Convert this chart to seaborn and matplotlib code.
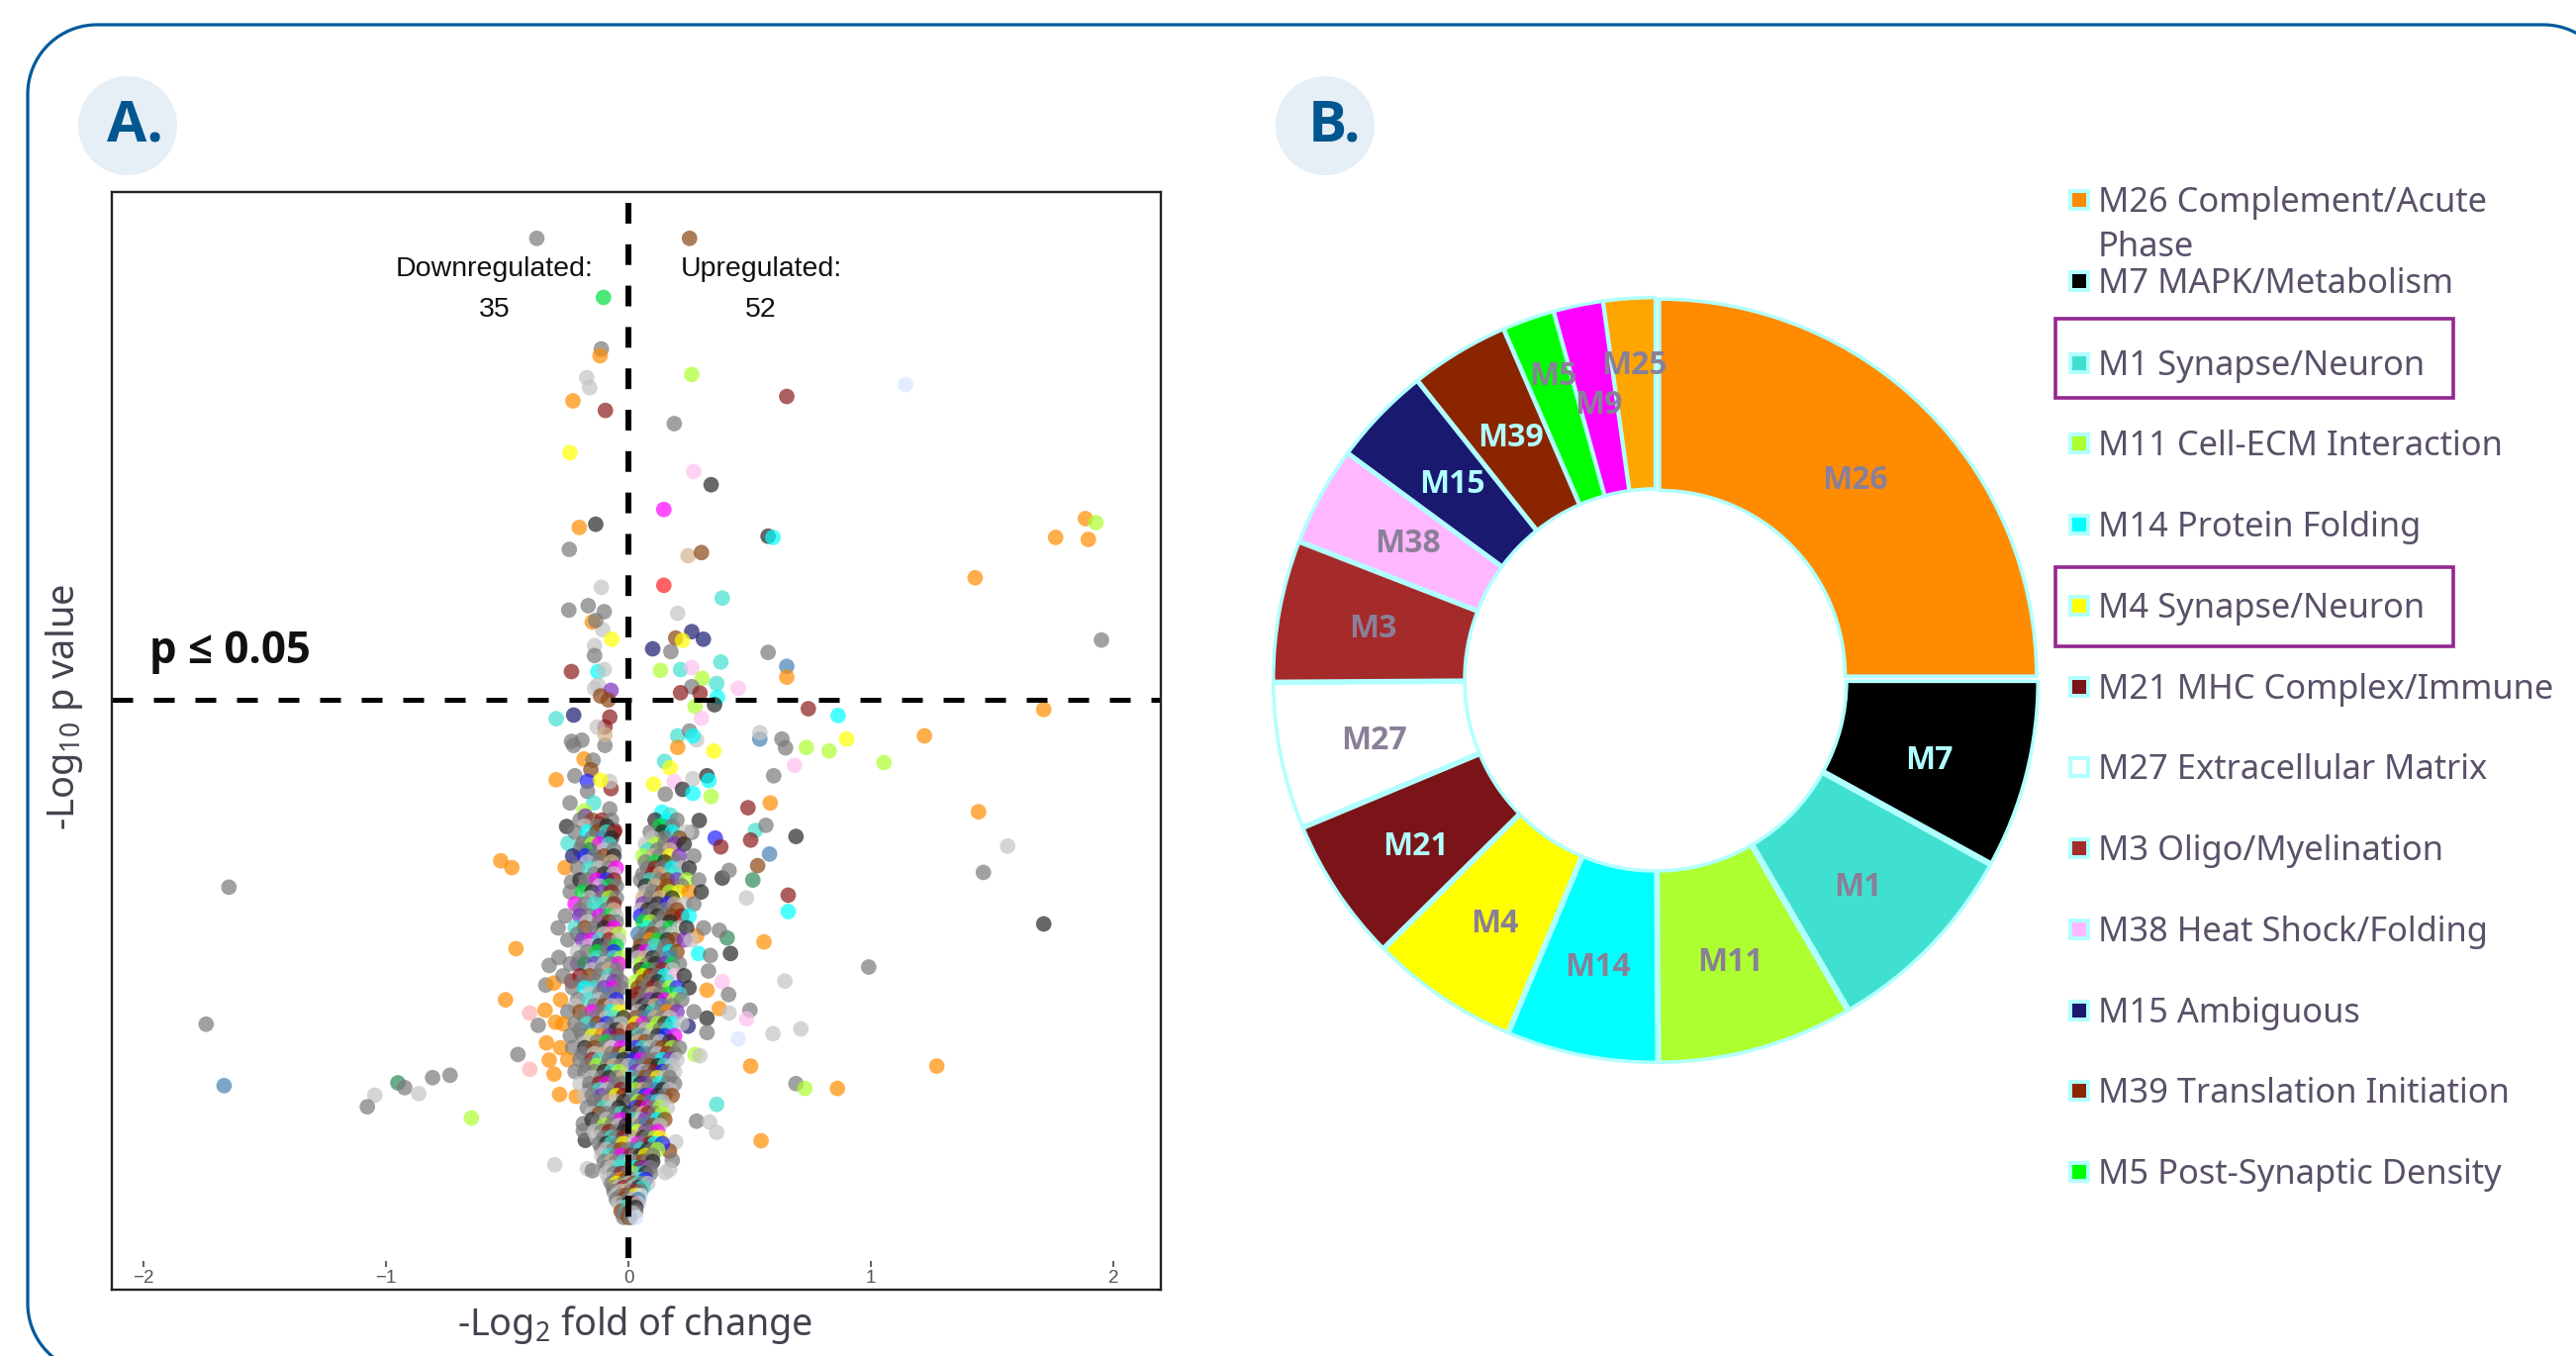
import matplotlib
matplotlib.use("Agg")
import matplotlib.pyplot as plt
from matplotlib.patches import Circle, Rectangle
import numpy as np
import pandas as pd
import seaborn as sns

# ---------------- donut data ----------------
donut_modules = ["M26","M7","M1","M11","M14","M4","M21","M27","M3","M38","M15","M39","M5","M9","M25"]
donut_values = [25,8,8.6,8.3,6.4,6.3,6.1,6.2,6,4.2,4.2,4.2,2.2,2.1,2.2]
donut_colors = ["#FF8C00","#000000","#40E0D0","#ADFF2F","#00FFFF","#FFFF00","#7A1418","#FFFFFF","#A52A2A","#FFB8FF","#191970","#8B2500","#00FF00","#FF00FF","#FFA500"]
donut_pale_labels = ["M7","M21","M15","M39"]
donut_label_radius = [.745,.745,.745,.745,.745,.745,.745,.745,.745,.745,.745,.745,.85,.74,.83]
donut_label_dx = [0,0,0,0,-.008,-.008,-.012,-.012,-.012,0,0,0,.012,0,0]
donut_label_dy = [0,-.027,-.027,-.027,-.027,-.027,-.027,-.012,0,0,0,0,0,0,0]

legend_labels = ["M26 Complement/Acute\nPhase","M7 MAPK/Metabolism","M1 Synapse/Neuron","M11 Cell-ECM Interaction","M14 Protein Folding","M4 Synapse/Neuron","M21 MHC Complex/Immune","M27 Extracellular Matrix","M3 Oligo/Myelination","M38 Heat Shock/Folding","M15 Ambiguous","M39 Translation Initiation","M5 Post-Synaptic Density"]
legend_colors = donut_colors[:13]
legend_rows = [202,284,367,448,530,612,694,775,857,939,1021,1102,1184]

# ---------------- volcano data ----------------
module_colors = {"g":"#7A7A7A","l":"#C4C4C4","k":"#262626","o":"#FF8C00","y":"#FFFF00","m":"#FF00FF","c":"#00FFFF","t":"#40E0D0",
                 "n":"#191970","b":"#2020FF","r":"#8B1A1A","R":"#8B4513","G":"#00E040","s":"#ADFF2F","p":"#FFC0F0","P":"#7B2FBE",
                 "e":"#2E8B57","w":"#D2B48C","v":"#4682B4","d":"#FF2020","f":"#D8E6FF","h":"#FFB0B0"}

upper_points = [(-.378,2.457,"g"),(.252,2.457,"R"),(-.103,2.309,"G"),(-.112,2.180,"g"),(-.117,2.163,"o"),(-.172,2.108,"l"),(-.160,2.083,"l"),
 (-.229,2.050,"o"),(-.095,2.026,"r"),(-.241,1.920,"y"),(.261,2.116,"s"),(.653,2.061,"r"),(1.143,2.091,"f"),(.189,1.993,"g"),(.269,1.873,"p"),
 (.341,1.840,"k"),(.146,1.778,"m"),(-.203,1.733,"o"),(-.135,1.741,"k"),(-.244,1.678,"g"),(.576,1.711,"k"),(.596,1.708,"c"),(1.885,1.755,"o"),
 (1.928,1.745,"s"),(1.762,1.708,"o"),(1.897,1.703,"o"),(1.43,1.607,"o"),(.246,1.662,"w"),(.301,1.670,"R"),(.146,1.588,"d"),(.387,1.556,"t"),
 (-.112,1.583,"l"),(-.246,1.526,"g"),(-.166,1.537,"g"),(-.100,1.522,"g"),(-.106,1.477,"l"),(-.149,1.496,"o"),(-.135,1.500,"g"),(-.069,1.453,"y"),
 (-.140,1.437,"l"),(-.140,1.412,"g"),(.203,1.518,"l"),(.261,1.472,"n"),(.309,1.453,"n"),(.195,1.456,"R"),(.223,1.450,"y"),(.100,1.429,"n"),
 (.175,1.422,"g"),(.576,1.420,"g"),(.653,1.385,"v"),(.653,1.358,"o"),(1.951,1.451,"g")]
middle_points = [(.381,1.396,"t"),(.215,1.377,"t"),(.132,1.375,"s"),(.261,1.382,"p"),(.304,1.355,"s"),(.364,1.342,"t"),(.453,1.330,"p"),
 (.261,1.334,"g"),(.295,1.318,"r"),(.215,1.319,"r"),(.367,1.308,"c"),(.355,1.289,"k"),(.275,1.285,"s"),(.742,1.279,"r"),(.865,1.262,"c"),
 (1.713,1.277,"o"),(.301,1.255,"p"),(-.235,1.372,"r"),(-.126,1.372,"c"),(-.100,1.377,"l"),(-.126,1.339,"l"),(-.072,1.325,"P"),(-.14,1.33,"l"),
 (-.115,1.311,"R"),(-.083,1.301,"R"),(-.226,1.263,"n"),(-.298,1.254,"t"),(-.077,1.258,"r"),(-.097,1.233,"r"),(-.129,1.233,"l"),(-.235,1.197,"g"),
 (-.192,1.200,"g"),(-.226,1.187,"g"),(-.097,1.187,"g"),(-.097,1.214,"w"),(.203,1.211,"t"),(.252,1.223,"g"),(.281,1.201,"l"),(.203,1.182,"o"),
 (.266,1.211,"c"),(.352,1.173,"y"),(.542,1.203,"v"),(.542,1.219,"l"),(.633,1.203,"g"),(.648,1.181,"g"),(.734,1.182,"s"),(.828,1.173,"s"),
 (.900,1.203,"y"),(1.221,1.211,"o"),(1.054,1.144,"s"),(.685,1.137,"p"),(-.183,1.153,"o"),(-.146,1.150,"g"),(-.155,1.126,"R"),(-.298,1.101,"o"),
 (-.221,1.111,"g"),(-.169,1.097,"b"),(-.072,1.079,"r"),(-.169,1.072,"g"),(-.077,1.097,"l"),(-.115,1.100,"y"),(.149,1.147,"t"),(.172,1.131,"y"),
 (.103,1.090,"y"),(.189,1.097,"p"),(.266,1.104,"l"),(.324,1.111,"k"),(.332,1.099,"c"),(.223,1.077,"k"),(.266,1.067,"c"),(.152,1.065,"g"),
 (.341,1.059,"s"),(.599,1.111,"g")]
lower_points = [(.493,1.031,"r"),(.585,1.043,"o"),(1.444,1.021,"o"),(-.241,1.043,"g"),(-.143,1.043,"t"),(-.077,1.028,"g"),(-.183,1.023,"s"),
 (-.178,1.010,"P"),(.138,1.020,"c"),(.172,1.013,"t"),(.152,.984,"k"),(.292,.999,"k"),(.261,.969,"g"),(.524,.974,"t"),(.567,.987,"g"),(.504,.950,"r"),
 (.691,.959,"k"),(.358,.955,"b"),(.381,.933,"r"),(.582,.915,"v"),(-.255,.984,"k"),(-.115,.989,"R"),(-.057,.974,"r"),(-.249,.942,"t"),(-.186,.945,"g"),
 (-.100,.969,"t"),(-.527,.898,"o"),(-.481,.881,"o"),(-.261,.881,"o"),(-.158,.912,"b"),(-.235,.845,"g"),(.533,.886,"R"),(.387,.855,"k"),(.415,.874,"g"),
 (.513,.850,"e"),(.487,.805,"l"),(.659,.812,"r"),(.659,.771,"c"),(-1.648,.832,"g"),(.559,.695,"o"),(.421,.666,"k"),(.407,.705,"e"),(.375,.724,"g"),
 (.281,.710,"o"),(.289,.666,"c"),(.338,.661,"g"),(-.464,.678,"o"),(-.287,.656,"g"),(-.327,.636,"g"),(-.209,.641,"P"),(1.464,.869,"g"),(1.564,.935,"l"),
 (1.713,.740,"k"),(.991,.632,"g"),(.645,.597,"l"),(.330,.622,"g"),(.387,.595,"p"),(.324,.574,"o"),(.413,.563,"g"),(-.507,.550,"o"),(-.341,.587,"g"),
 (-.307,.592,"o"),(-.235,.597,"r"),(-.407,.517,"h"),(-.344,.524,"o"),(-.372,.486,"g"),(-.301,.494,"o"),(-1.742,.489,"g"),(.501,.524,"g"),(.487,.502,"p"),
 (.375,.528,"o"),(.324,.504,"k"),(.415,.517,"l"),(.324,.468,"g"),(.246,.484,"n"),(.596,.465,"l"),(.711,.477,"l"),(.453,.452,"f"),(-.338,.442,"o"),
 (-.456,.413,"g"),(-.327,.399,"o"),(-.407,.376,"h"),(-.307,.364,"o"),(.504,.384,"o"),(1.272,.384,"o"),(.275,.413,"s"),(.295,.410,"l"),(-1.668,.335,"v"),
 (-.951,.342,"e"),(-.923,.330,"g"),(-.808,.355,"g"),(-.736,.361,"g"),(-.865,.315,"l"),(-1.046,.311,"l"),(-1.077,.282,"g"),(-.648,.254,"s"),(.691,.340,"g"),
 (.728,.328,"s"),(.862,.328,"o"),(.364,.288,"t"),(-.284,.313,"o"),(-.215,.308,"o"),(.281,.246,"g"),(.335,.244,"l"),(.364,.218,"l"),(.547,.197,"o"),
 (-.186,.240,"g"),(-.178,.198,"k"),(-.186,.222,"g"),(-.304,.137,"l"),(-.169,.127,"l"),(-.149,.122,"g"),(.195,.194,"l"),(.169,.171,"R"),(.181,.148,"g"),(.152,.117,"l"),(.170,.125,"l")]

core_y = [1.00,.97,.94,.91,.88,.85,.82,.79,.76,.73,.70,.67,.64,.61,.58,.55,.52,.49,.46,.43,.40,.37,.34,.31,.28,.25,.22,.19,.16,.13,.10,.08,.06,.04,.02,.005]
core_x = [
 [-.20,-.15,-.11,-.07,.11,.16,.20],
 [-.22,-.17,-.13,-.09,-.06,.09,.14,.18,.24],
 [-.19,-.15,-.12,-.08,.07,.11,.15,.19,.23],
 [-.23,-.18,-.14,-.10,-.06,.06,.10,.13,.17,.21,.27],
 [-.21,-.16,-.12,-.08,-.05,.08,.11,.14,.18,.22,.25],
 [-.20,-.17,-.13,-.09,-.06,.05,.09,.13,.16,.20,.24,.29],
 [-.24,-.19,-.15,-.11,-.07,.07,.10,.14,.17,.21,.25,.30],
 [-.22,-.18,-.14,-.10,-.06,.06,.09,.12,.16,.19,.23,.27],
 [-.26,-.20,-.16,-.12,-.08,-.05,.05,.08,.12,.15,.18,.22,.25],
 [-.29,-.22,-.18,-.14,-.10,-.06,.08,.11,.14,.17,.21,.24,.31],
 [-.25,-.19,-.15,-.12,-.08,-.04,.05,.09,.12,.16,.19,.23,.26],
 [-.21,-.17,-.13,-.09,-.06,.04,.07,.10,.14,.17,.20,.24],
 [-.24,-.18,-.14,-.10,-.07,-.04,.05,.08,.11,.15,.18,.21],
 [-.27,-.20,-.16,-.12,-.08,-.05,.06,.09,.12,.15,.19,.23],
 [-.23,-.18,-.14,-.10,-.06,-.03,.04,.07,.10,.13,.17,.20,.25],
 [-.28,-.21,-.16,-.12,-.09,-.05,.03,.06,.09,.12,.15,.19,.22],
 [-.25,-.20,-.15,-.11,-.07,-.04,.04,.07,.10,.13,.16,.20,.27],
 [-.27,-.22,-.17,-.13,-.09,-.06,-.03,.03,.06,.09,.12,.15,.18,.22],
 [-.24,-.19,-.15,-.11,-.08,-.04,.04,.06,.09,.12,.15,.19],
 [-.28,-.23,-.18,-.14,-.10,-.07,-.03,.03,.06,.09,.12,.14,.18,.21],
 [-.25,-.20,-.15,-.12,-.08,-.05,-.02,.02,.05,.08,.11,.14,.17,.20],
 [-.22,-.18,-.14,-.10,-.07,-.04,.03,.06,.08,.11,.14,.16,.19],
 [-.20,-.16,-.12,-.09,-.06,-.03,.02,.05,.07,.10,.13,.16,.19],
 [-.18,-.15,-.11,-.08,-.05,-.02,.02,.04,.07,.09,.12,.15,.18],
 [-.17,-.13,-.10,-.07,-.04,.03,.05,.08,.10,.13,.16],
 [-.15,-.12,-.09,-.06,-.03,.02,.05,.07,.10,.12,.15],
 [-.14,-.11,-.08,-.05,-.02,.02,.04,.07,.09,.12],
 [-.12,-.09,-.07,-.04,-.02,.02,.04,.06,.09,.11,.14],
 [-.11,-.08,-.05,-.03,.01,.03,.05,.07,.10],
 [-.09,-.07,-.04,-.02,.01,.03,.05,.07,.09],
 [-.08,-.05,-.03,-.01,.01,.03,.05,.07],
 [-.06,-.04,-.02,.01,.02,.04,.06],
 [-.05,-.03,-.01,.01,.03,.05],
 [-.04,-.02,0,.02,.04],
 [-.03,-.01,.01,.03],
 [-.02,0,.01,.03],
]
core_modules = [
 "gRrgkcg","gcRtrgkcl","gsmtlsgPk","nbgRkswgyPg","gtlgmgrgclk","kgmbrgtgRPsg","gGkPrlgRsyok","mgttrPgkbwlg","gPgmGlbgkgRrc","gtRgkmcglGlkg",
 "gPmtrlgoGkRPl","lgGgbkmtgcR","gePlgmsgkPGg","grRgtgyrgcpk","gctPmgRgrgsbk","ogtlgbrgPkmsg","gRmgcylktgoPg","ogtRbglymgskcl","ggyoPrtglkbm",
 "ogkRgpmbtlgRsg","ogrtgvkbmggcPl","gggktsPlgrbgl","lgrmggtkPgcgg","lgPgyrtgbmkgR","ggtlkbrmgsl","kglgmtlPgcR","lgrgkcyPgm","gktgylmgrcbl",
 "ltgmrgkyg","glttgcrPg","lgoRkltb","glrglkt","lgRgyf","lgkrl","Rtkg","gRgf"]

# denser second pass through the funnel
core2_y = [.985,.955,.925,.895,.865,.835,.805,.775,.745,.715,.685,.655,.625,.595,.565,.535,.505,.475,.445,.415,.385,.355,.325,.295,.265,.235,.205,.175,.145,.115,.09,.07,.05,.03,.015]
core2_x = [
 [-.18,-.13,-.09,.13,.18],
 [-.15,-.11,-.07,.10,.15,.21],
 [-.20,-.16,-.10,-.06,.08,.12,.17],
 [-.17,-.12,-.07,.07,.11,.15,.20],
 [-.14,-.10,-.06,.06,.10,.13,.19],
 [-.18,-.12,-.08,-.05,.07,.11,.16,.22],
 [-.16,-.11,-.08,-.05,.06,.09,.13,.18],
 [-.20,-.13,-.09,-.06,.05,.08,.11,.15,.20],
 [-.17,-.12,-.08,-.05,.06,.09,.13,.17],
 [-.21,-.14,-.10,-.07,-.04,.04,.07,.10,.14,.18],
 [-.16,-.12,-.08,-.05,.05,.08,.11,.15,.21],
 [-.20,-.13,-.09,-.06,-.03,.04,.07,.10,.13,.17],
 [-.15,-.11,-.08,-.05,.05,.08,.11,.14,.18],
 [-.19,-.13,-.09,-.06,-.03,.03,.06,.09,.12,.16],
 [-.16,-.12,-.08,-.05,.04,.07,.10,.13,.17,.21],
 [-.22,-.14,-.10,-.07,-.04,.03,.06,.08,.11,.14,.18],
 [-.18,-.13,-.09,-.06,-.02,.03,.05,.08,.11,.14,.17],
 [-.20,-.15,-.11,-.08,-.05,-.02,.02,.05,.07,.10,.13,.16],
 [-.17,-.13,-.09,-.06,-.03,.02,.04,.07,.10,.13,.17],
 [-.19,-.14,-.10,-.07,-.04,-.01,.01,.04,.07,.10,.12,.16,.19],
 [-.17,-.13,-.09,-.06,-.03,0,.03,.06,.09,.12,.15,.18],
 [-.15,-.11,-.08,-.05,-.02,.01,.04,.07,.09,.12,.15,.17],
 [-.16,-.12,-.09,-.06,-.03,0,.03,.06,.08,.11,.14,.17],
 [-.14,-.11,-.08,-.05,-.02,.01,.04,.06,.09,.12,.14],
 [-.15,-.12,-.09,-.06,-.03,0,.03,.06,.08,.11,.14],
 [-.13,-.10,-.07,-.04,-.01,.02,.05,.07,.10,.13],
 [-.13,-.10,-.07,-.05,-.02,.01,.03,.06,.08,.11,.13],
 [-.11,-.09,-.06,-.03,0,.03,.05,.08,.10,.12],
 [-.10,-.07,-.05,-.02,.01,.03,.06,.08,.10],
 [-.09,-.06,-.03,0,.02,.05,.07,.09],
 [-.07,-.05,-.02,0,.02,.04,.06,.08],
 [-.06,-.03,-.01,.01,.03,.05],
 [-.05,-.02,0,.02,.04],
 [-.03,-.01,.01,.03],
 [-.02,0,.02],
]
core2_modules = [
 "lgkGg","gvklgR","gelgtgw","lgwgGkg","gklgrwt","glGgkwRg","lgsgwgwk","gtgwlkggR","lgrgGsgk","gglwsvgRgl","lkgGRgtg","gtgtslwkgv","lgwgkGgrl",
 "gglPgsRgkt","lgvgrgwgGt","lgRlwgkgwvg","ggltkRgvwgl","gvlgkwrglsgt","lgGgvgwRglk","glwgRsgkvglrg","gsgwglvgRktl","lgkgwtgRgylg","gtlgrgswgvkl",
 "ggwlkgsRvtl","lRggtkgwrgs","gsglkwgvRl","lgtgrgwkgsy","glgRgvtkgs","gwgtlgRgk","lgrgstkg","gyglRtgl","glwgrg","gRglv","ltgk","gRl"]


def build_frame():
    sparse = pd.DataFrame([*upper_points, *middle_points, *lower_points], columns=["fold", "logp", "module"])
    rows = []
    for ys, xs_rows, code_rows in [(core_y, core_x, core_modules), (core2_y, core2_x, core2_modules)]:
        for y, xs, codes in zip(ys, xs_rows, code_rows):
            rows.extend((x, y, c) for x, c in zip(xs, codes))
    core = pd.DataFrame(rows, columns=["fold", "logp", "module"]).sort_values("logp", ascending=False, kind="stable")
    return pd.concat([sparse, core], ignore_index=True)


sns.set_theme(style="white")
plt.rcParams["font.family"] = ["Noto Sans", "DejaVu Sans"]
plt.rcParams["mathtext.default"] = "regular"
BOLD = ["Open Sans", "DejaVu Sans"]

W, H = 2603, 1370
fig = plt.figure(figsize=(W / 100, H / 100), dpi=100, facecolor="white")

# page layer in pixel coordinates
page = fig.add_axes([0, 0, 1, 1], zorder=0)
page.set_xlim(0, W)
page.set_ylim(H, 0)
page.axis("off")
px = 0.72
left, top, right, bottom, r = 28, 25, 2640, 1387, 70
t = np.linspace(0, np.pi / 2, 40)
card_x = np.concatenate([left + r - r * np.sin(t), left + r - r * np.cos(t), right - r + r * np.sin(t)])
card_y = np.concatenate([bottom - r + r * np.cos(t), top + r - r * np.sin(t), top + r - r * np.cos(t)])
page.plot(card_x, card_y, color="#005A9C", lw=3.2 * px, solid_joinstyle="round")
for cx, tx, txt in [(129, 137, "A."), (1339, 1349, "B.")]:
    page.add_patch(Circle((cx, 127), 50, fc="#E6EEF6", ec="none"))
    page.text(tx, 127, txt, ha="center", va="center", fontsize=42, fontweight="bold", color="#00568F", family=BOLD)

# panel A
ax = fig.add_axes([113 / W, (H - 1303) / H, (1173 - 113) / W, 1109 / H], zorder=1)
df = build_frame()
sns.scatterplot(data=df, x="fold", y="logp", hue="module", palette=module_colors, s=128, alpha=0.7,
                linewidth=0, legend=False, ax=ax)
ax.set_xlim(-2.131, 2.196)
ax.set_ylim(-0.176, 2.573)
ax.set_xlabel("")
ax.set_ylabel("")
ax.set_xticks([])
ax.set_yticks([])
for s in ax.spines.values():
    s.set_visible(True)
    s.set_color("#222222")
    s.set_linewidth(1.7)
ax.axhline(1.301, color="black", lw=3.6, dashes=(4.2, 4.2), dash_capstyle="butt")
ax.plot([0, 0], [2.545, -0.112], color="black", lw=4.3, dashes=(3.5, 3.5), dash_capstyle="butt")
sec = ax.secondary_xaxis(29 / 1109)
sec.set_xticks([-2, -1, 0, 1, 2])
sec.set_xticklabels(["\u22122", "\u22121", "0", "1", "2"], family="Liberation Sans")
sec.spines["bottom"].set_visible(False)
sec.tick_params(axis="x", direction="out", length=4.5, width=1.2, color="#444444", pad=2, labelsize=13.5, labelcolor="#555555")
page_t = dict(ha="center", va="center", family="Liberation Sans", color="#111111", zorder=5)

overlay = fig.add_axes([0, 0, 1, 1], zorder=3)
overlay.set_xlim(0, W)
overlay.set_ylim(H, 0)
overlay.axis("off")
overlay.patch.set_alpha(0)
overlay.text(500, 272, "Downregulated:", fontsize=20.5, **page_t)
overlay.text(500, 313, "35", fontsize=20.5, **page_t)
overlay.text(769, 272, "Upregulated:", fontsize=20.5, **page_t)
overlay.text(769, 313, "52", fontsize=20.5, **page_t)
overlay.text(151, 658, "p \u2264 0.05", fontsize=31.5, fontweight="bold", color="#111111", ha="left", va="center", family=BOLD)
label_color = "#47404F"
overlay.text(642, 1338, "-Log$_{2}$ fold of change", fontsize=27.2, color=label_color, ha="center", va="center")
overlay.text(65, 714, "-Log$_{10}$ p value", fontsize=27.4, color=label_color, ha="center", va="center", rotation=90)

# panel B
cx, cy, box = 1673, 687, 410
dax = fig.add_axes([(cx - box) / W, (H - cy - box) / H, 2 * box / W, 2 * box / H], zorder=1)
edge = "#B2FFFF"
wedges, _ = dax.pie(donut_values, colors=donut_colors, startangle=90, counterclock=False, radius=.995,
                    explode=[.014] * len(donut_values),
                    wedgeprops=dict(width=.505, edgecolor=edge, linewidth=2.6))
dax.set_xlim(-box / 383, box / 383)
dax.set_ylim(-box / 383, box / 383)
for w, name, lr, dx, dy in zip(wedges, donut_modules, donut_label_radius, donut_label_dx, donut_label_dy):
    a = np.deg2rad((w.theta1 + w.theta2) / 2)
    col = edge if name in donut_pale_labels else "#8A7F98"
    dax.text(lr * np.cos(a) + dx, lr * np.sin(a) + dy, name, ha="center", va="center", fontsize=23, fontweight="bold", color=col, family=BOLD)

# legend
legend_color = "#5A5068"
for y, lab, col in zip(legend_rows, legend_labels, legend_colors):
    overlay.add_patch(Rectangle((2092, y - 9), 18, 18, fc=col, ec=edge, lw=4 * px))
    first = lab.split("\n")
    overlay.text(2120, y + 3, first[0], fontsize=24.8, color=legend_color, ha="left", va="center")
    if len(first) > 1:
        overlay.text(2120, y + 48, first[1], fontsize=24.8, color=legend_color, ha="left", va="center")
for box_top, box_bottom in [(322, 402), (573, 653)]:
    overlay.add_patch(Rectangle((2077, box_top), 2479 - 2077, box_bottom - box_top, fc="none", ec="#92278F", lw=3.6 * px))

fig.savefig("out.png", dpi=100, facecolor="white")
